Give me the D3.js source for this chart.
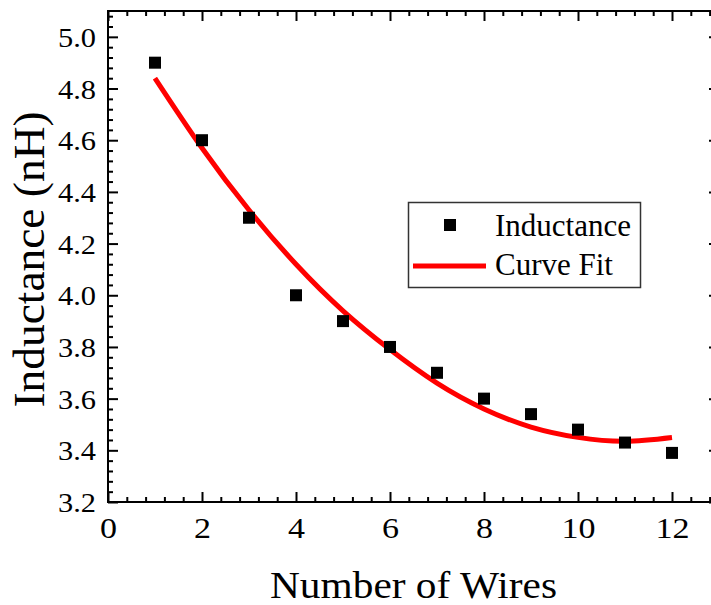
<!DOCTYPE html>
<html>
<head>
<meta charset="utf-8">
<script src="https://cdn.jsdelivr.net/npm/d3@7"></script>
<style>
  html, body { margin: 0; padding: 0; background: #fff; }
  svg { display: block; font-family: "Liberation Serif", "Times New Roman", serif; }
</style>
</head>
<body>
<svg id="chart" width="711" height="605"></svg>
<script>
// Measured inductance per number of wires
const wires = [1, 2, 3, 4, 5, 6, 7, 8, 9, 10, 11, 12];
const inductance = [4.90, 4.60, 4.30, 4.00, 3.90, 3.80, 3.70, 3.60, 3.54, 3.48, 3.43, 3.39];

// Fitted curve samples
const fitWires = [1, 2, 3, 4, 5, 6, 7, 8, 9, 10, 11, 12];
const fitInductance = [4.84, 4.57, 4.33, 4.12, 3.94, 3.79, 3.66, 3.56, 3.49, 3.45, 3.435, 3.45];

// Axis ticks
const xMajorTicks = [0, 2, 4, 6, 8, 10, 12];
const yMajorTicks = [3.2, 3.4, 3.6, 3.8, 4.0, 4.2, 4.4, 4.6, 4.8, 5.0];

const xTitle = "Number of Wires";
const yTitle = "Inductance (nH)";
const seriesNames = ["Inductance", "Curve Fit"];

const svg = d3.select("#chart");
const plotLeft = 108, plotRight = 719, plotTop = 11, plotBottom = 502;

const x = d3.scaleLinear().domain([0, 13]).range([plotLeft, plotRight]);
const y = d3.scaleLinear().domain([3.2, 5.1]).range([plotBottom, plotTop]);

const xMinor = d3.range(0, 13.001, 0.4).map(v => +v.toFixed(2)).filter(v => !xMajorTicks.some(t => Math.abs(t - v) < 1e-6));
const yMinor = d3.range(3.2, 5.1001, 0.04).map(v => +v.toFixed(2)).filter(v => !yMajorTicks.some(t => Math.abs(t - v) < 1e-6));

function styleAxis(g) {
  g.select(".domain").remove();
  g.selectAll(".tick line").attr("stroke", "#000").attr("stroke-width", 2);
}

// Bottom axis (inward ticks)
svg.append("g").attr("transform", `translate(0,${plotBottom})`)
  .call(d3.axisBottom(x).tickValues(xMinor).tickSize(-5).tickFormat(""))
  .call(styleAxis);
const xAxisG = svg.append("g").attr("transform", `translate(0,${plotBottom})`)
  .call(d3.axisBottom(x).tickValues(xMajorTicks).tickSize(-10).tickPadding(12).tickFormat(d3.format("d")))
  .call(styleAxis);
xAxisG.selectAll(".tick text")
  .attr("font-family", "Liberation Serif, Times New Roman, serif")
  .attr("font-size", 30).attr("fill", "#000")
  .attr("dy", null).attr("y", 36)
  .attr("textLength", d => String(d).length * 17)
  .attr("lengthAdjust", "spacingAndGlyphs");

// Top axis
svg.append("g").attr("transform", `translate(0,${plotTop})`)
  .call(d3.axisTop(x).tickValues(xMinor).tickSize(-5).tickFormat(""))
  .call(styleAxis);
svg.append("g").attr("transform", `translate(0,${plotTop})`)
  .call(d3.axisTop(x).tickValues(xMajorTicks).tickSize(-10).tickFormat(""))
  .call(styleAxis);

// Left axis
svg.append("g").attr("transform", `translate(${plotLeft},0)`)
  .call(d3.axisLeft(y).tickValues(yMinor).tickSize(-5).tickFormat(""))
  .call(styleAxis);
const yAxisG = svg.append("g").attr("transform", `translate(${plotLeft},0)`)
  .call(d3.axisLeft(y).tickValues(yMajorTicks).tickSize(-10).tickPadding(12).tickFormat(d3.format(".1f")))
  .call(styleAxis);
yAxisG.selectAll(".tick text")
  .attr("font-family", "Liberation Serif, Times New Roman, serif")
  .attr("font-size", 28).attr("fill", "#000")
  .attr("dy", "0.34em")
  .attr("textLength", 38)
  .attr("lengthAdjust", "spacingAndGlyphs");

// Right axis
svg.append("g").attr("transform", `translate(${plotRight},0)`)
  .call(d3.axisRight(y).tickValues(yMinor).tickSize(-5).tickFormat(""))
  .call(styleAxis);
svg.append("g").attr("transform", `translate(${plotRight},0)`)
  .call(d3.axisRight(y).tickValues(yMajorTicks).tickSize(-10).tickFormat(""))
  .call(styleAxis);

// Frame
svg.append("rect")
  .attr("x", plotLeft).attr("y", plotTop)
  .attr("width", plotRight - plotLeft).attr("height", plotBottom - plotTop)
  .attr("fill", "none").attr("stroke", "#000").attr("stroke-width", 2);

// Fit curve
const line = d3.line().x((d, i) => x(fitWires[i])).y(d => y(d)).curve(d3.curveNatural);
svg.append("path")
  .datum(fitInductance)
  .attr("d", line)
  .attr("fill", "none").attr("stroke", "#ff0000").attr("stroke-width", 5);

// Data markers
const ms = 12;
svg.append("g").selectAll("rect")
  .data(inductance)
  .join("rect")
  .attr("x", (d, i) => x(wires[i]) - ms / 2)
  .attr("y", d => y(d) - ms / 2)
  .attr("width", ms).attr("height", ms)
  .attr("fill", "#000");

// Axis titles
svg.append("text")
  .attr("x", (plotLeft + plotRight) / 2).attr("y", 598)
  .attr("text-anchor", "middle")
  .attr("font-size", 38).attr("fill", "#000")
  .attr("textLength", 287).attr("lengthAdjust", "spacingAndGlyphs")
  .text(xTitle);

svg.append("text")
  .attr("transform", `translate(44,${(plotTop + plotBottom) / 2 + 3}) rotate(-90)`)
  .attr("text-anchor", "middle")
  .attr("font-size", 44).attr("fill", "#000")
  .attr("textLength", 296).attr("lengthAdjust", "spacingAndGlyphs")
  .text(yTitle);

// Legend
const legend = svg.append("g");
legend.append("rect")
  .attr("x", 408.5).attr("y", 202.5).attr("width", 232).attr("height", 85)
  .attr("fill", "#fff").attr("stroke", "#333").attr("stroke-width", 1.5);
legend.append("rect")
  .attr("x", 450 - ms / 2).attr("y", 225 - ms / 2).attr("width", ms).attr("height", ms)
  .attr("fill", "#000");
legend.append("line")
  .attr("x1", 413).attr("x2", 486).attr("y1", 266).attr("y2", 266)
  .attr("stroke", "#ff0000").attr("stroke-width", 5);
legend.append("text").attr("x", 495).attr("y", 236)
  .attr("font-size", 31).attr("fill", "#000").text(seriesNames[0]);
legend.append("text").attr("x", 495).attr("y", 275)
  .attr("font-size", 31).attr("fill", "#000").text(seriesNames[1]);
</script>
</body>
</html>
